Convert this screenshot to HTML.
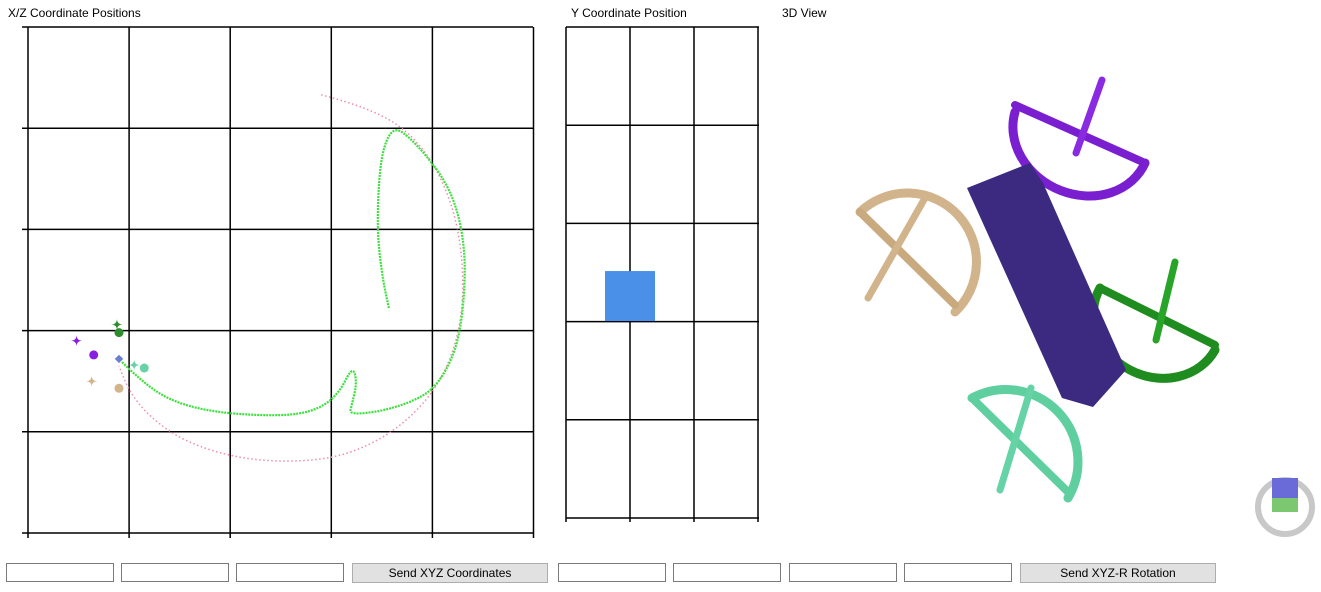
<!DOCTYPE html>
<html><head><meta charset="utf-8"><style>
body{margin:0;width:1321px;height:592px;background:#fff;font-family:"Liberation Sans",sans-serif;position:relative;overflow:hidden}
.t{position:absolute;font-size:12px;color:#000}
.in{position:absolute;top:563px;height:19px;border:1px solid #7a7a7a;background:#fff;box-sizing:border-box}
.btn{position:absolute;top:563px;height:20px;border:1px solid #adadad;background:#e1e1e1;box-sizing:border-box;font-size:12px;text-align:center;line-height:18px}
</style></head><body>
<div class="t" style="left:8px;top:6px">X/Z Coordinate Positions</div>
<div class="t" style="left:571px;top:6px">Y Coordinate Position</div>
<div class="t" style="left:782px;top:6px">3D View</div>
<svg id="xz" width="1321" height="592" style="position:absolute;left:0;top:0"></svg>
<svg width="1321" height="592" style="position:absolute;left:0;top:0">
<g fill="none" stroke-linecap="round">
<path d="M1015 112 A70 60 25 0 0 1145 163" stroke="#7a1fd0" stroke-width="9"/>
<line x1="1015" y1="105" x2="1145" y2="163" stroke="#7a1fd0" stroke-width="8"/>
<line x1="1102" y1="80" x2="1076" y2="153" stroke="#8a2be2" stroke-width="7"/>
<path d="M860 212 A68 68 0 0 1 955 312" stroke="#d2b48c" stroke-width="9"/>
<line x1="860" y1="212" x2="955" y2="305" stroke="#c9a97e" stroke-width="8"/>
<line x1="925" y1="198" x2="868" y2="298" stroke="#d2b48c" stroke-width="7"/>
<path d="M1100 288 A62 55 25 0 0 1215 350" stroke="#1e8c1e" stroke-width="9"/>
<line x1="1100" y1="288" x2="1215" y2="345" stroke="#1e8c1e" stroke-width="8"/>
<line x1="1175" y1="262" x2="1156" y2="340" stroke="#28a428" stroke-width="7"/>
<path d="M972 398 A72 72 0 0 1 1068 498" stroke="#5fcfa0" stroke-width="9"/>
<line x1="972" y1="398" x2="1068" y2="492" stroke="#5fcfa0" stroke-width="8"/>
<line x1="1031" y1="388" x2="1000" y2="490" stroke="#66d3a6" stroke-width="7"/>
</g>
<polygon points="967,188 1030,163 1043,183 1126,370 1093,407 1062,398" fill="#3b2a80"/>
<circle cx="1285" cy="507" r="27" fill="none" stroke="#c8c8c8" stroke-width="6"/>
<rect x="1272" y="478" width="26" height="20" fill="#6a6ad8"/>
<rect x="1272" y="498" width="26" height="14" fill="#7cc870"/>
</svg>
<div class="in" style="left:6px;width:108px"></div>
<div class="in" style="left:121px;width:108px"></div>
<div class="in" style="left:236px;width:108px"></div>
<div class="btn" style="left:352px;width:196px">Send XYZ Coordinates</div>
<div class="in" style="left:558px;width:108px"></div>
<div class="in" style="left:673px;width:108px"></div>
<div class="in" style="left:789px;width:108px"></div>
<div class="in" style="left:904px;width:108px"></div>
<div class="btn" style="left:1020px;width:196px">Send XYZ-R Rotation</div>
<script>
const greenX=[0.93,1.11,1.40,1.80,2.29,2.69,2.94,3.09,3.18,3.23,3.25,3.20,3.18,3.48,3.78,4.00,4.17,4.27,4.32,4.32,4.25,4.12,3.93,3.78,3.65,3.56,3.49,3.46,3.46,3.51,3.57];
const greenZ=[1.69,1.51,1.31,1.20,1.16,1.17,1.26,1.41,1.59,1.61,1.46,1.26,1.17,1.20,1.29,1.41,1.66,1.96,2.40,2.80,3.19,3.49,3.74,3.90,4.00,3.93,3.69,3.29,2.90,2.50,2.22];
const pinkX=[2.9,3.4,3.85,4.15,4.3,4.3,4.1,3.7,3.2,2.7,2.1,1.55,1.2,1.0,0.9];
const pinkZ=[4.33,4.2,3.9,3.4,2.8,2.1,1.5,1.05,0.78,0.7,0.73,0.9,1.15,1.4,1.65];
const markX=[0.48,0.65,0.88,0.63,0.9,0.9,1.05,1.15,0.9];
const markZ=[1.9,1.76,2.06,1.5,1.43,1.98,1.66,1.63,1.72];
const markC=['#8a1ee0','#8a1ee0','#2e8b2e','#d2b48c','#d2b48c','#2e8b2e','#66d3a6','#66d3a6','#6a7fd0'];
const markS=['star','dot','star','star','dot','dot','star','dot','diamond'];
const yVal=[2.25];
const ns='http://www.w3.org/2000/svg';
const svg=document.getElementById('xz');
const sx=v=>28+v*101.1, sz=v=>533-v*101.2;
function el(t,a){const e=document.createElementNS(ns,t);for(const k in a)e.setAttribute(k,a[k]);svg.appendChild(e);return e;}
function smooth(xs,zs){const p=xs.map((x,i)=>[sx(x),sz(zs[i])]);let d='M'+p[0][0]+' '+p[0][1];
 for(let i=1;i<p.length-1;i++){const mx=(p[i][0]+p[i+1][0])/2,my=(p[i][1]+p[i+1][1])/2;d+=` Q${p[i][0]} ${p[i][1]} ${mx} ${my}`;}
 const l=p[p.length-1];d+=` L${l[0]} ${l[1]}`;return d;}
for(let i=0;i<=5;i++){
 const g=el('line',{x1:sx(i),y1:27,x2:sx(i),y2:538,stroke:'#000','stroke-width':1.5});
 
 const h=el('line',{x1:22,y1:sz(i),x2:533,y2:sz(i),stroke:'#000','stroke-width':1.5});
 
}
const yx=[566,630,694,758];
yx.forEach(x=>{const l=el('line',{x1:x,y1:27,x2:x,y2:522,stroke:'#000','stroke-width':1.5});});
for(let i=0;i<=5;i++){const l=el('line',{x1:566,y1:27+i*98.2,x2:759,y2:27+i*98.2,stroke:'#000','stroke-width':1.5});}
const sy=v=>517-v*98.2;
const b=el('rect',{x:605,y:sy(yVal[0])-25,width:50,height:50,fill:'#4a8fe8'});

const pk=el('path',{d:smooth(pinkX,pinkZ),fill:'none',stroke:'#f08cb0','stroke-width':1.5,'stroke-dasharray':'1.5 2.5'});

const gr=el('path',{d:smooth(greenX,greenZ),fill:'none',stroke:'#3ee03e','stroke-width':2.2,'stroke-dasharray':'2 1'});

markX.forEach((x,i)=>{
 const cx=sx(x),cy=sz(markZ[i]);let m;
 if(markS[i]==='dot')m=el('circle',{cx,cy,r:4.5,fill:markC[i]});
 else if(markS[i]==='star')m=el('path',{d:`M${cx} ${cy-6}Q${cx} ${cy} ${cx+6} ${cy}Q${cx} ${cy} ${cx} ${cy+6}Q${cx} ${cy} ${cx-6} ${cy}Q${cx} ${cy} ${cx} ${cy-6}Z`,fill:markC[i]});
 else m=el('rect',{x:cx-3,y:cy-3,width:6,height:6,fill:markC[i],transform:`rotate(45 ${cx} ${cy})`});
 
 
});
</script>
</body></html>
